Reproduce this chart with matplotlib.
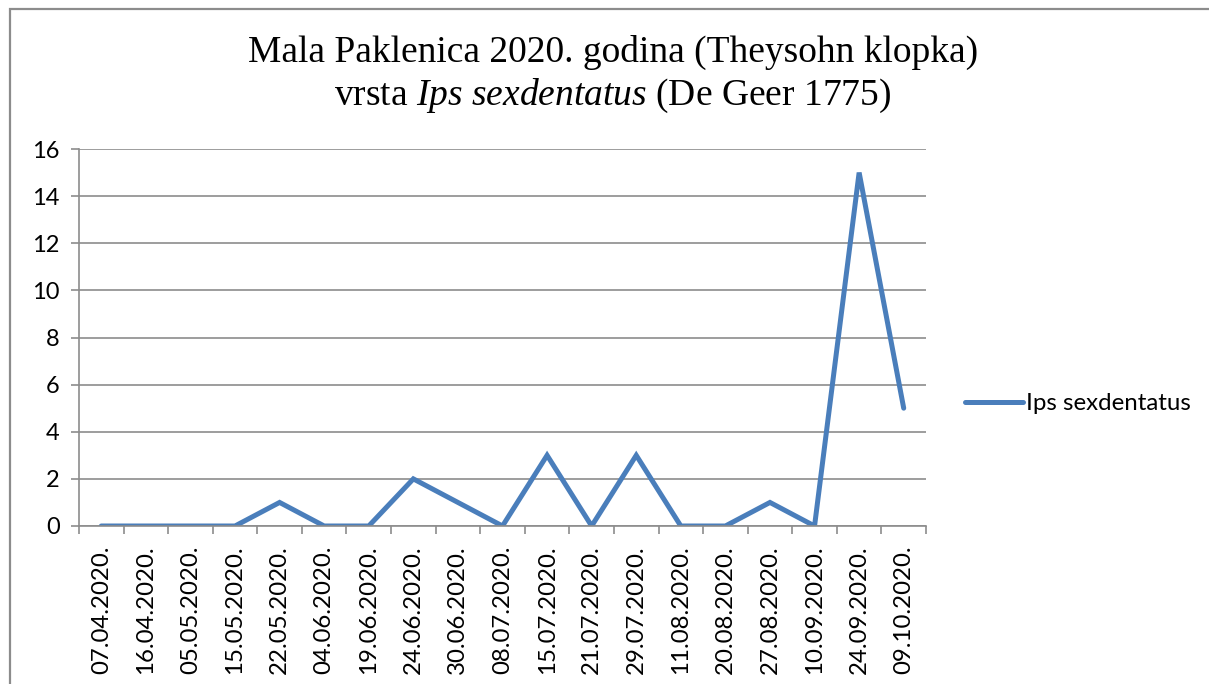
import matplotlib
matplotlib.use("Agg")
import matplotlib.pyplot as plt
from matplotlib.patches import Rectangle

dates = ["07.04.2020.", "16.04.2020.", "05.05.2020.", "15.05.2020.", "22.05.2020.",
         "04.06.2020.", "19.06.2020.", "24.06.2020.", "30.06.2020.", "08.07.2020.",
         "15.07.2020.", "21.07.2020.", "29.07.2020.", "11.08.2020.", "20.08.2020.",
         "27.08.2020.", "10.09.2020.", "24.09.2020.", "09.10.2020."]
counts = [0, 0, 0, 0, 1, 0, 0, 2, 1, 0, 3, 0, 3, 0, 0, 1, 0, 15, 5]
series_name = "Ips sexdentatus"
y_ticks = [0, 2, 4, 6, 8, 10, 12, 14, 16]

plt.rcParams['mathtext.fontset'] = 'custom'
plt.rcParams['mathtext.rm'] = 'Liberation Serif'
plt.rcParams['mathtext.it'] = 'Liberation Serif:italic'

W, H = 1209, 684
fig = plt.figure(figsize=(W / 100, H / 100), dpi=100)
fig.patch.set_facecolor('white')

# outer chart frame (cropped at right/bottom)
fig.patches.append(Rectangle((10 / W, -0.2), 1.5, 1.2 - 9 / H,
                             transform=fig.transFigure, fill=False,
                             edgecolor='#8c8c8c', lw=1.6))

ax = fig.add_axes([79 / W, 1 - 526 / H, (926 - 79) / W, (526 - 149) / H])
x = list(range(len(dates)))
line, = ax.plot(x, counts, color='#4a7ebb', lw=3.6, solid_joinstyle='miter',
                solid_capstyle='round', label=series_name)

ax.set_xlim(-0.5, len(dates) - 0.5)
ax.set_ylim(0, 16)
ax.set_yticks(y_ticks)
ax.set_xticks(x)
ax.set_xticklabels(dates, rotation=90, fontfamily='Lato', fontsize=17.3)
ax.set_xticks([i - 0.5 for i in range(len(dates) + 1)], minor=True)
ax.tick_params(axis='x', which='major', length=0, pad=14)
ax.tick_params(axis='x', which='minor', length=6, color='#8c8c8c', width=1.2, direction='out')
ax.tick_params(axis='y', length=6, color='#8c8c8c', width=1.2, pad=8)
for lab in ax.get_yticklabels():
    lab.set_fontfamily('Lato')
    lab.set_fontsize(17)

ax.grid(axis='y', color='#8c8c8c', lw=1.2)
ax.set_axisbelow(True)
for s in ['top', 'right']:
    ax.spines[s].set_visible(False)
for s in ['left', 'bottom']:
    ax.spines[s].set_color('#8c8c8c')
    ax.spines[s].set_linewidth(1.2)

fig.legend(handles=[line], loc='center left', bbox_to_anchor=(965 / W, 1 - 404 / H),
           frameon=False, prop={'family': 'Lato', 'size': 17.3}, handlelength=2.4,
           handletextpad=0.15, borderaxespad=0, borderpad=0)

fig.text(613 / W, 1 - 52 / H, "Mala Paklenica 2020. godina (Theysohn klopka)",
         ha='center', va='center', fontfamily='Liberation Serif', fontsize=27)
fig.text(613 / W, 1 - 96 / H, r"vrsta $\mathit{Ips\ sexdentatus}$ (De Geer 1775)",
         ha='center', va='center', fontfamily='Liberation Serif', fontsize=27)

fig.savefig('out.png', dpi=100, facecolor='white')
